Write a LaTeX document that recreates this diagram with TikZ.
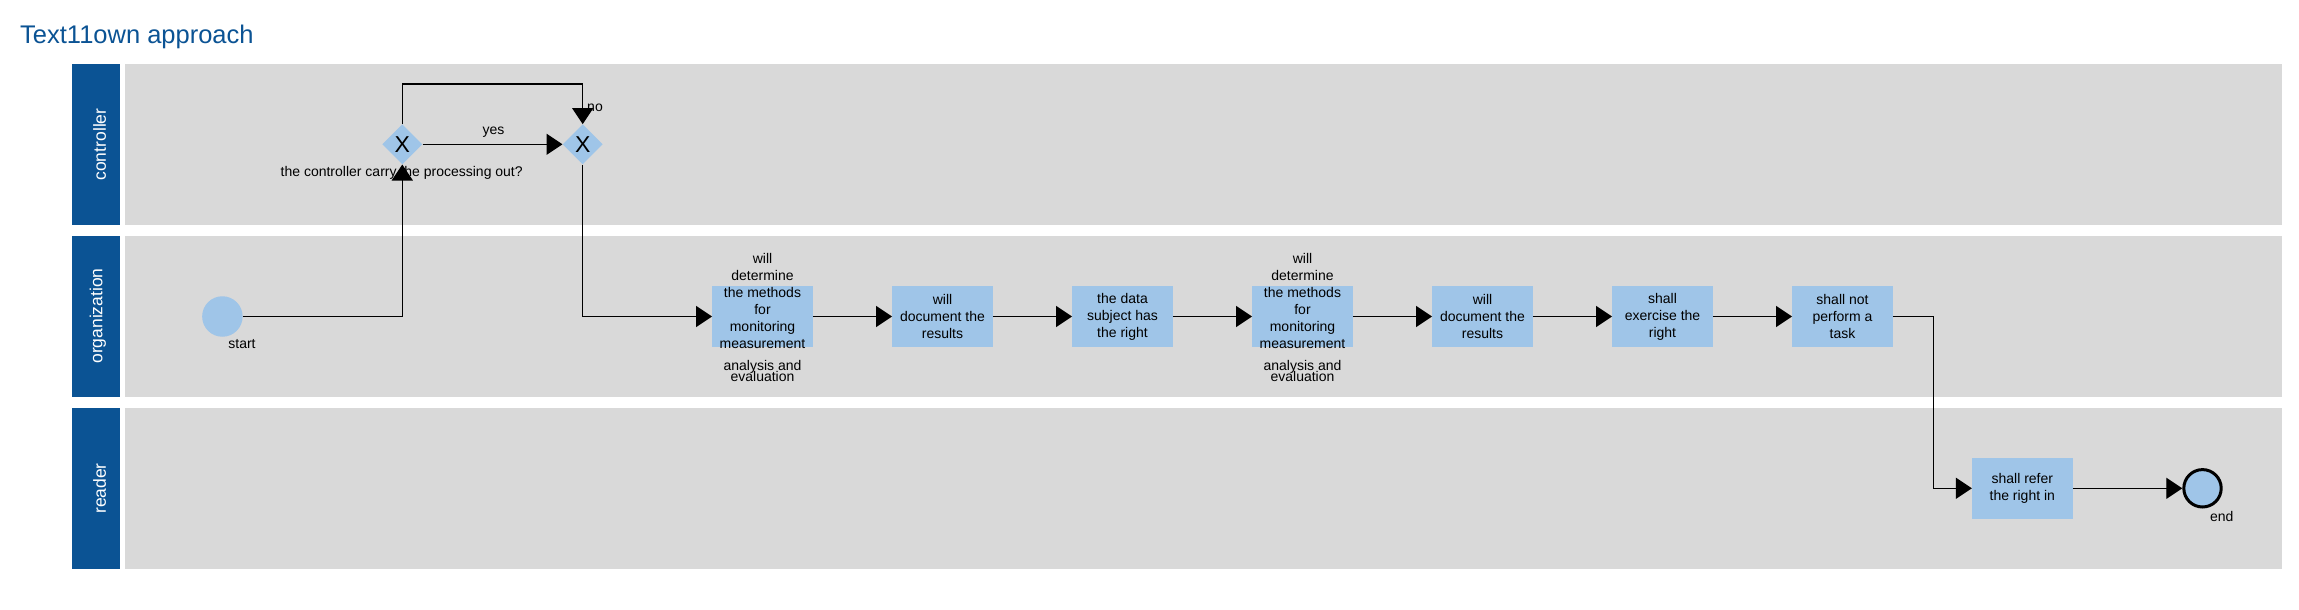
\documentclass[tikz,border=0pt]{standalone}
\usepackage{fontspec}
\setmainfont{Liberation Sans}
\usetikzlibrary{arrows.meta,shapes.geometric}
\definecolor{hdblue}{HTML}{0B5394}
\definecolor{lanegray}{HTML}{D9D9D9}
\definecolor{boxblue}{HTML}{9FC5E8}
\begin{document}
\begin{tikzpicture}[x=1pt,y=-1pt,
  lanehead/.style={fill=hdblue, minimum width=48pt, minimum height=161pt, inner sep=0pt},
  headtext/.style={text=white, rotate=90, inner sep=0pt, font=\fontsize{17.5}{20}\selectfont},
  lanebody/.style={fill=lanegray, minimum width=2157pt, minimum height=161pt, inner sep=0pt},
  task/.style={fill=boxblue, minimum width=100.5pt, minimum height=60.7pt, inner sep=0pt, align=center, font=\fontsize{14}{17}\selectfont},
  txt/.style={align=center, inner sep=0pt, font=\fontsize{14}{17}\selectfont},
  gw/.style={diamond, fill=boxblue, minimum width=40pt, minimum height=40pt, inner sep=0pt, font=\fontsize{23}{23}\selectfont},
  startev/.style={circle, fill=boxblue, minimum size=40.5pt, inner sep=0pt},
  endev/.style={circle, draw=black, line width=3pt, fill=boxblue, minimum size=37.4pt, inner sep=0pt},
  flow/.style={draw=black, line width=1.3pt, -{Triangle[length=16pt,width=21pt]}}
]
\useasboundingbox (0,0) rectangle (2299,610);
\fill[white] (0,0) rectangle (2299,610);

\node[anchor=base west, text=hdblue, font=\fontsize{25.5}{30}\selectfont, inner sep=0pt] (title) at (20,43.3) {Text11own approach};

% lanes
\node[lanebody] (lc) at (1203.5,144.5) {};
\node[lanebody] (lo) at (1203.5,316.5) {};
\node[lanebody] (lr) at (1203.5,488.5) {};
\node[lanehead] (hc) at (96,144.5) {};
\node[lanehead] (ho) at (96,316.5) {};
\node[lanehead] (hr) at (96,488.5) {};
\node[headtext] (hct) at (99.5,144.5) {controller};
\node[headtext] (hot) at (97.8,316) {organization};
\node[headtext] (hrt) at (99.5,488.5) {reader};

% events and gateways
\node[startev] (start) at (222.4,316.5) {};
\node[txt] (startl) at (242,344.2) {start};
\node[gw] (g1) at (402.3,144.3) {X};
\node[gw] (g2) at (582.7,144.3) {X};
\node[txt] (g1l) at (401.7,172.5) {the controller carry the processing out?};
\node[txt] (yesl) at (493.5,132.5) {yes};
\node[txt] (nol) at (595,107.5) {no};

% tasks
\node[task] (t1) at (762.5,316.5) {};
\node[txt] (t1a) at (762.5,301) {will\\determine\\the methods\\for\\monitoring\\measurement};
\node[txt, anchor=base] (t1b) at (762.5,370.5) {analysis and};
\node[txt, anchor=base] (t1c) at (762.5,381.5) {evaluation};
\node[task] (t2) at (942.5,316.5) {will\\document the\\results};
\node[task] (t3) at (1122.5,316.5) {the data\\subject has\\the right};
\node[task] (t4) at (1302.5,316.5) {};
\node[txt] (t4a) at (1302.5,301) {will\\determine\\the methods\\for\\monitoring\\measurement};
\node[txt, anchor=base] (t4b) at (1302.5,370.5) {analysis and};
\node[txt, anchor=base] (t4c) at (1302.5,381.5) {evaluation};
\node[task] (t5) at (1482.5,316.5) {will\\document the\\results};
\node[task] (t6) at (1662.5,316.5) {shall\\exercise the\\right};
\node[task] (t7) at (1842.5,316.5) {shall not\\perform a\\task};
\node[task] (t8) at (2022.3,488.3) {shall refer\\the right in};
\node[endev] (end) at (2202.5,488.3) {};
\node[txt] (endl) at (2221.7,516.7) {end};

% flows
\draw[flow] (start.east) -| (g1.south);
\draw[flow] (g1.east) -- (g2.west);
\draw[flow] (g1.north) -- ++(0,-40) -| (g2.north);
\draw[flow] (g2.south) |- (t1.west);
\draw[flow] (t1.east) -- (t2.west);
\draw[flow] (t2.east) -- (t3.west);
\draw[flow] (t3.east) -- (t4.west);
\draw[flow] (t4.east) -- (t5.west);
\draw[flow] (t5.east) -- (t6.west);
\draw[flow] (t6.east) -- (t7.west);
\draw[flow] (t7.east) -- ++(40.5,0) |- (t8.west);
\draw[flow] (t8.east) -- (end.west);
\end{tikzpicture}
\end{document}
